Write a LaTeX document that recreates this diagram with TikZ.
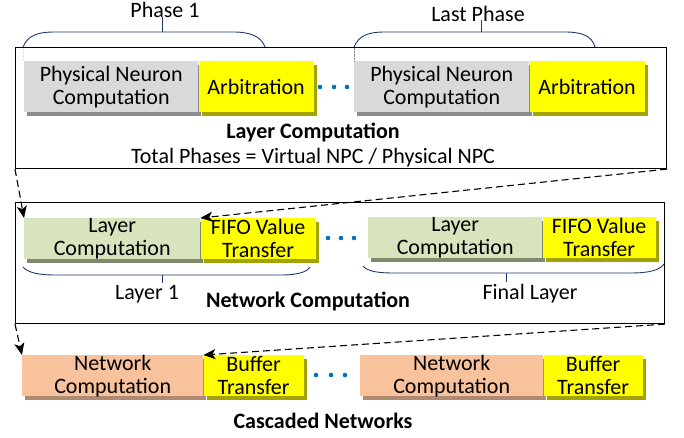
\documentclass[tikz,border=0pt]{standalone}
\usepackage{fontspec}
\setmainfont{Carlito}
\usepackage{tikz}
\usetikzlibrary{arrows.meta,positioning,shadows}
\definecolor{cgray}{HTML}{D9D9D9}
\definecolor{cgrayd}{HTML}{8C8C8C}
\definecolor{cyel}{HTML}{FFFF00}
\definecolor{cyeld}{HTML}{A3A300}
\definecolor{cgreen}{HTML}{D7E4BD}
\definecolor{cgreend}{HTML}{7F8A6A}
\definecolor{corange}{HTML}{F8C29C}
\definecolor{coranged}{HTML}{B08A70}
\definecolor{cblue}{HTML}{0070C0}
\definecolor{cbrace}{HTML}{1F3A6E}
\tikzset{
  box/.style 2 args={inner xsep=0pt, inner ysep=-4pt, align=center, fill=#1,
    general shadow={fill=#2, shadow xshift=3pt, shadow yshift=-4pt}},
  frame/.style={draw, line width=1.1pt, inner sep=0pt, anchor=north west},
  brace/.style={draw=cbrace, line width=0.9pt},
  dot/.style={fill=cblue},
  lnk/.style={->, line width=1.1pt, dash pattern=on 7pt off 4pt}
}
\begin{document}
\begin{tikzpicture}[x=1pt, y=-1pt, >={Stealth[length=12pt,width=10pt,inset=3pt]}, font=\fontsize{22}{23}\selectfont]
  \useasboundingbox (0,0) rectangle (684,437);

  \node[frame, minimum width=651pt, minimum height=121pt] (layerbox) at (15,47) {};
  \node[frame, minimum width=649pt, minimum height=121pt] (netbox) at (15,202) {};

  \node[box={cgray}{cgrayd}, minimum width=174pt, minimum height=51pt, anchor=north west] (phys1) at (24,61) {Physical Neuron\\Computation};
  \node[box={cyel}{cyeld}, minimum width=115pt, minimum height=51pt, right=0pt of phys1] (arb1) {Arbitration};
  \node[box={cgray}{cgrayd}, minimum width=175pt, minimum height=51pt, anchor=north west] (phys2) at (354,61) {Physical Neuron\\Computation};
  \node[box={cyel}{cyeld}, minimum width=115pt, minimum height=51pt, right=0pt of phys2] (arb2) {Arbitration};
  \foreach \x in {320,334,347} \fill[dot] (\x,87) circle (2.3pt);

  \draw[brace] (23,47) .. controls (28,35) and (38,32) .. (55,32) -- (233,32) .. controls (250,32) and (261,36) .. (265,47);
  \draw[brace] (162,32) -- (162,17);
  \draw[brace] (354,47) .. controls (359,35) and (369,32) .. (385,32) -- (565,32) .. controls (582,32) and (592,36) .. (595,47);
  \draw[brace] (481,32) -- (481,20);
  \draw[densely dotted, gray] (23,48) -- (phys1.north west);
  \draw[densely dotted, gray] (354,48) -- (phys2.north west);
  \node[anchor=base] (ph1) at (165,17) {Phase 1};
  \node[anchor=base] (phl) at (478,21) {Last Phase};
  \node[anchor=base] (lct) at (313,138) {\bfseries Layer Computation};
  \node[anchor=base] (tph) at (313,163) {Total Phases = Virtual NPC / Physical NPC};

  \node[box={cgreen}{cgreend}, minimum width=176pt, minimum height=41pt, anchor=north west] (lc1) at (24,218) {Layer\\Computation};
  \node[box={cyel}{cyeld}, minimum width=115pt, minimum height=41pt, right=0pt of lc1] (fifo1) {FIFO Value\\Transfer};
  \node[box={cgreen}{cgreend}, minimum width=174pt, minimum height=41pt, anchor=north west] (lc2) at (368,217) {Layer\\Computation};
  \node[box={cyel}{cyeld}, minimum width=113pt, minimum height=41pt, right=0pt of lc2] (fifo2) {FIFO Value\\Transfer};
  \foreach \x in {328,341,354} \fill[dot] (\x,238) circle (2.3pt);

  \draw[brace] (23,267) .. controls (28,273) and (40,275) .. (55,275) -- (280,275) .. controls (298,275) and (307,272) .. (310,267);
  \draw[brace] (162,275) -- (162,283);
  \draw[brace] (363,266) .. controls (368,272) and (380,273) .. (395,273) -- (630,273) .. controls (650,273) and (660,270) .. (664,264);
  \draw[brace] (506,273) -- (506,282);
  \node[anchor=base] (ly1) at (147,299) {Layer 1};
  \node[anchor=base] (lyf) at (530,299) {Final Layer};
  \node[anchor=base] (nct) at (308,307) {\bfseries Network Computation};

  \node[box={corange}{coranged}, minimum width=181pt, minimum height=41pt, anchor=north west] (nc1) at (22,355) {Network\\Computation};
  \node[box={cyel}{cyeld}, minimum width=100pt, minimum height=41pt, right=0pt of nc1] (buf1) {Buffer\\Transfer};
  \node[box={corange}{coranged}, minimum width=183pt, minimum height=41pt, anchor=north west] (nc2) at (360,355) {Network\\Computation};
  \node[box={cyel}{cyeld}, minimum width=99pt, minimum height=41pt, right=0pt of nc2] (buf2) {Buffer\\Transfer};
  \foreach \x in {316,331,345} \fill[dot] (\x,375) circle (2.3pt);
  \node[anchor=base] (cas) at (323,428) {\bfseries Cascaded Networks};

  \draw[lnk] (layerbox.south west) -- (lc1.north west);
  \draw[lnk] (layerbox.south east) -- (fifo1.north west);
  \draw[lnk] (netbox.south west) -- (nc1.north west);
  \draw[lnk] (netbox.south east) -- (buf1.north west);
\end{tikzpicture}
\end{document}
